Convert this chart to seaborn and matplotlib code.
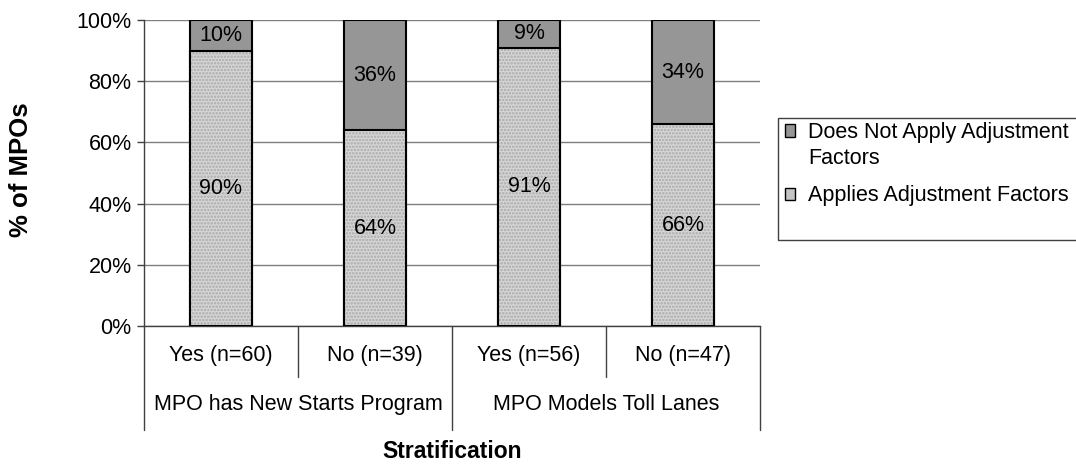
import numpy as np
import pandas as pd
import seaborn as sns
import matplotlib.pyplot as plt
from matplotlib.patches import Rectangle, Patch

groups = ['MPO has New Starts Program', 'MPO Models Toll Lanes']
answers = ['Yes (n=60)', 'No (n=39)', 'Yes (n=56)', 'No (n=47)']
applies = [90, 64, 91, 66]
not_applies = [10, 36, 9, 34]
yticks = [0, 20, 40, 60, 80, 100]

sns.set_style('white', rc={'text.color': 'black', 'ytick.color': 'black',
                           'axes.labelcolor': 'black'})
plt.rcParams['font.family'] = ['Liberation Sans', 'DejaVu Sans']
plt.rcParams['hatch.linewidth'] = 1.2
fs = 15.5

df = pd.DataFrame({'answer': answers, 'applies': applies, 'not_applies': not_applies})
df['total'] = df['applies'] + df['not_applies']

fig = plt.figure(figsize=(10.76, 4.66), dpi=100)
ax = fig.add_axes([144 / 1076, 1 - 326 / 466, 616 / 1076, 306 / 466])

dark = '#969696'
light = '#d6d6d6'

# full bar (dark top segment shows above the light one)
sns.barplot(data=df, x='answer', y='total', color=dark, width=0.4, saturation=1,
            edgecolor='black', linewidth=1.5, ax=ax, zorder=2)
# light dotted segment
sns.barplot(data=df, x='answer', y='applies', color=light, width=0.4, saturation=1,
            edgecolor='#a9a9a9', linewidth=0, hatch='.....', ax=ax, zorder=3)
# outline of the light segment
sns.barplot(data=df, x='answer', y='applies', color='black', width=0.4, fill=False,
            linewidth=1.5, ax=ax, zorder=4)

for i, row in df.iterrows():
    ax.text(i, row['applies'] / 2, f"{row['applies']}%", ha='center', va='center',
            fontsize=fs, color='black', zorder=5)
    ax.text(i, row['applies'] + row['not_applies'] / 2, f"{row['not_applies']}%",
            ha='center', va='center', fontsize=fs, color='black', zorder=5)

ax.set_ylim(0, 100)
ax.set_xlim(-0.5, 3.5)
ax.set_yticks(yticks)
ax.set_yticklabels([f'{v}%' for v in yticks], fontsize=fs, color='black')
ax.yaxis.grid(True, color='#7f7f7f', linewidth=1)
ax.set_axisbelow(True)
ax.tick_params(axis='y', which='major', left=True, length=5, width=1, color='#404040', pad=4)
ax.set_xticks([])
ax.set_xlabel('')
ax.set_ylabel('')
for s in ['top', 'right']:
    ax.spines[s].set_visible(False)
ax.spines['left'].set_color('#404040')
ax.spines['bottom'].set_color('#404040')
ax.spines['left'].set_linewidth(1)
ax.spines['bottom'].set_linewidth(1)

# category table below the axis
tr = ax.get_xaxis_transform()
row1 = -0.167
row2 = -0.34
for x in [-0.5, 1.5, 3.5]:
    ax.plot([x, x], [0, row2], transform=tr, color='#404040', lw=1, clip_on=False)
for x in [0.5, 2.5]:
    ax.plot([x, x], [0, row1], transform=tr, color='#404040', lw=1, clip_on=False)
for i, a in enumerate(answers):
    ax.text(i, -0.095, a, transform=tr, ha='center', va='center', fontsize=fs, color='black')
for j, g in enumerate(groups):
    ax.text(2 * j + 0.5, -0.258, g, transform=tr, ha='center', va='center',
            fontsize=fs, color='black')

fig.text(452 / 1076, 1 - 451 / 466, 'Stratification', ha='center', va='center',
         fontsize=16.5, fontweight='bold', color='black')
fig.text(21 / 1076, 1 - 170 / 466, '% of MPOs', ha='center', va='center',
         rotation=90, fontsize=18.5, fontweight='bold', color='black')

# legend box
fig.patches.append(Rectangle((778 / 1076, 1 - 240 / 466), 310 / 1076, 122 / 466,
                             transform=fig.transFigure, facecolor='white',
                             edgecolor='#404040', lw=1))
handles = [Patch(facecolor=dark, edgecolor='black', lw=1),
           Patch(facecolor='#c4c4c4', edgecolor='black', lw=1)]
labels = ['Does Not Apply Adjustment\nFactors', 'Applies Adjustment Factors']
leg = fig.legend(handles, labels, loc='upper left', bbox_to_anchor=(776 / 1076, 1 - 113 / 466),
                 frameon=False, fontsize=fs, handlelength=0.5, handleheight=0.5,
                 handletextpad=0.6, labelspacing=0.75, borderaxespad=0)
leg.get_texts()[0].set_linespacing(1.35)
# put the first marker next to the first text line, as in the original
h0 = leg.legend_handles[0]
h0.set_y(h0.get_y() + 11)

fig.savefig('out.png', dpi=100)
